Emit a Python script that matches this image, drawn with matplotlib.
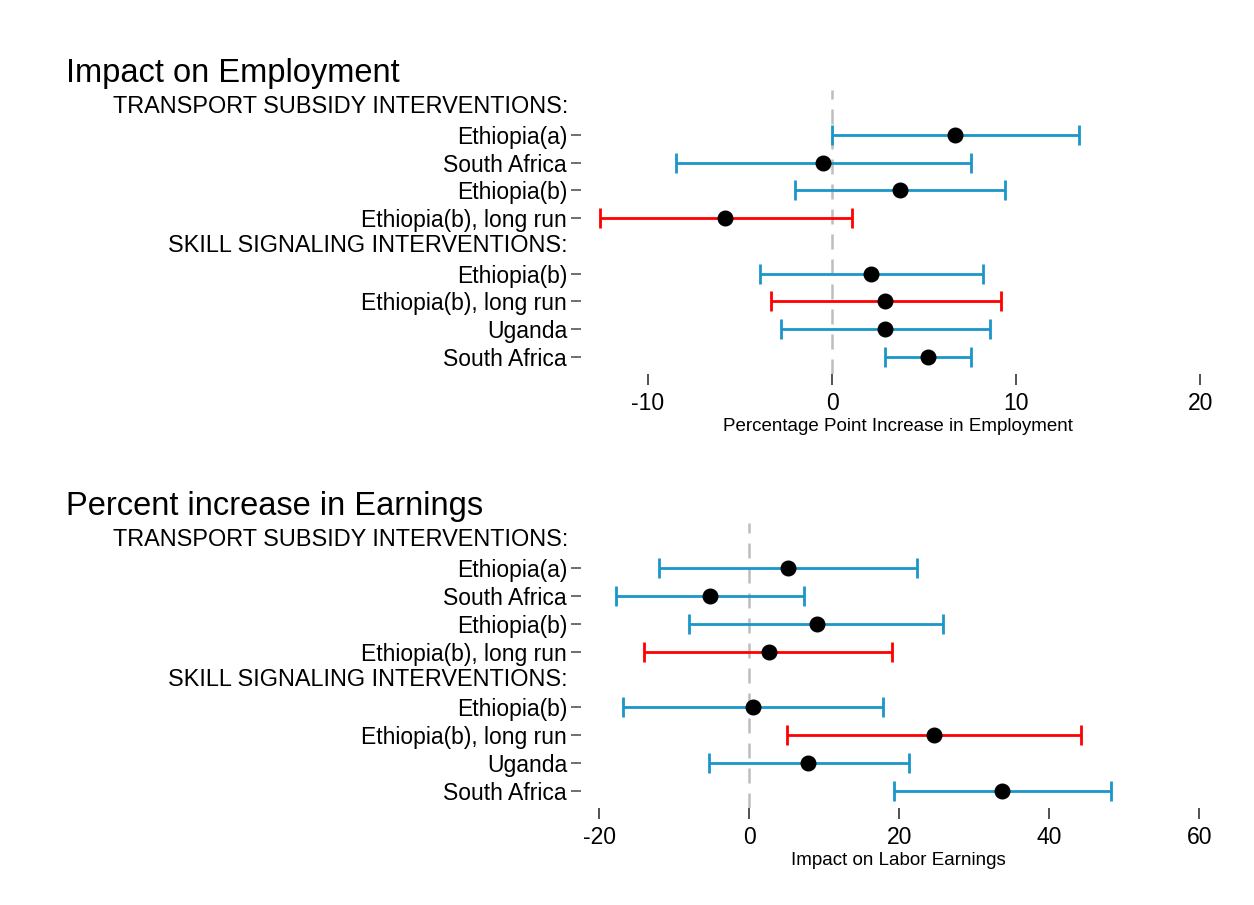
import matplotlib
matplotlib.use("Agg")
import matplotlib.pyplot as plt
import matplotlib.transforms as mtransforms

plt.rcParams['font.family'] = ['Liberation Sans', 'DejaVu Sans']
plt.rcParams['axes.unicode_minus'] = False

BLUE = '#1b96c9'
RED = '#ff0000'

# row layout shared by both panels (top to bottom)
transport_header = "TRANSPORT SUBSIDY INTERVENTIONS:"
skill_header = "SKILL SIGNALING INTERVENTIONS:"
transport_labels = ["Ethiopia(a)", "South Africa", "Ethiopia(b)", "Ethiopia(b), long run"]
skill_labels = ["Ethiopia(b)", "Ethiopia(b), long run", "Uganda", "South Africa"]
long_run = [False, False, False, True, False, True, False, False]

# employment: point estimate and 95% CI (percentage points)
emp_est = [6.7, -0.5, 3.7, -5.8, 2.1, 2.9, 2.9, 5.2]
emp_lo = [0.0, -8.5, -2.0, -12.6, -3.9, -3.3, -2.75, 2.85]
emp_hi = [13.4, 7.55, 9.4, 1.1, 8.2, 9.2, 8.6, 7.55]

# earnings: point estimate and 95% CI (percent)
earn_est = [5.15, -5.2, 9.0, 2.6, 0.5, 24.7, 7.9, 33.75]
earn_lo = [-12.0, -17.7, -8.0, -13.95, -16.85, 5.1, -5.4, 19.3]
earn_hi = [22.4, 7.35, 25.9, 19.05, 17.9, 44.3, 21.25, 48.3]


def forest_panel(fig, rect, est, lo, hi, xlim, xticks, title, xlabel):
    ax = fig.add_axes(rect)
    rows = [transport_header] + transport_labels + [skill_header] + skill_labels
    n = len(rows)
    ypos = {i: n - i for i in range(n)}
    data_rows = [i for i, r in enumerate(rows) if r not in (transport_header, skill_header)]

    for k, i in enumerate(data_rows):
        y = ypos[i]
        c = RED if long_run[k] else BLUE
        ax.errorbar([est[k]], [y], xerr=[[est[k] - lo[k]], [hi[k] - est[k]]],
                    fmt='none', ecolor=c, elinewidth=2, capsize=7.5, capthick=2, zorder=2)
        ax.plot(est[k], y, 'o', color='black', markersize=10.5, zorder=3)

    ax.axvline(0, color='#bdbdbd', lw=1.8, ls=(0, (6, 4)), zorder=1)

    ax.set_xlim(*xlim)
    ax.set_ylim(0.4, n + 0.6)
    ax.set_xticks(xticks)
    ax.set_xticklabels([str(t) for t in xticks], fontsize=16.5)
    ax.set_yticks([ypos[i] for i in data_rows])
    ax.set_yticklabels([rows[i] for i in data_rows], fontsize=16.5)
    ax.tick_params(axis='x', length=8, width=1.2, color='#333333', pad=5)
    ax.tick_params(axis='y', length=7, width=1.2, color='#555555', pad=3)
    for s in ax.spines.values():
        s.set_visible(False)

    # group headers sit in the label column, without tick marks
    trans = mtransforms.blended_transform_factory(ax.transAxes, ax.transData)
    off = mtransforms.ScaledTranslation(-13 / 100, 0, fig.dpi_scale_trans)
    for i in (0, 5):
        ax.text(0, ypos[i], rows[i], transform=trans + off, ha='right', va='center',
                fontsize=16.9)

    ax.set_xlabel(xlabel, fontsize=13.5, labelpad=2)
    fig.text(66 / 1254, rect[1] + rect[3] + 17 / 905, title, fontsize=23.5,
             ha='left', va='center')
    return ax


fig = plt.figure(figsize=(12.54, 9.05), dpi=100)
fig.patch.set_facecolor('white')

forest_panel(fig, [581 / 1254, 1 - 373.7 / 905, 634 / 1254, 283.4 / 905],
             emp_est, emp_lo, emp_hi, (-13.64, 20.8), [-10, 0, 10, 20],
             "Impact on Employment", "Percentage Point Increase in Employment")
forest_panel(fig, [581 / 1254, 1 - 808 / 905, 634 / 1254, 285 / 905],
             earn_est, earn_lo, earn_hi, (-22.4, 62.1), [-20, 0, 20, 40, 60],
             "Percent increase in Earnings", "Impact on Labor Earnings")

fig.savefig("out.png", dpi=100)
